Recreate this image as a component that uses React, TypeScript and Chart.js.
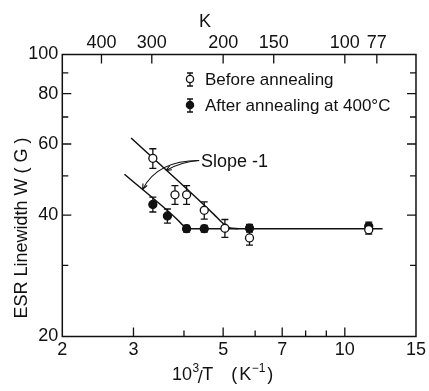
import React, { useEffect, useRef } from "react";
import { Chart, registerables } from "chart.js";
Chart.register(...registerables);

// ---- data ----
const beforeX = [3.35, 3.8, 4.06, 4.49, 5.05, 5.81, 11.46];
const beforeY = [55.3, 44.9, 44.9, 41.1, 37.1, 35.1, 36.8];
const beforeErr = [3.1, 2.4, 2.4, 2.0, 1.9, 1.4, 0.9];

const afterX = [3.35, 3.64, 4.06, 4.49, 5.81, 11.46];
const afterY = [42.5, 39.8, 37.0, 37.0, 37.1, 37.5];
const afterErr = [1.8, 1.6, 0.7, 0.7, 0.8, 0.9];

const fitBeforeX = [2.96, 4.75, 4.94, 5.17, 5.45];
const fitBeforeY = [62.1, 40.1, 38.55, 37.2, 37.0];
const fitAfterX = [2.85, 3.85, 3.98, 4.12, 12.4];
const fitAfterY = [50.5, 39.0, 37.7, 37.0, 37.0];

const xTickValues = [2, 3, 4, 5, 6, 7, 8, 9, 10, 15];
const xTickLabels = ["2", "3", "", "5", "", "7", "", "", "10", "15"];
const yTickValues = [20, 30, 40, 50, 60, 70, 80, 90, 100];
const yTickLabels = ["20", "", "40", "", "60", "", "80", "", "100"];
const topTickPositions = [2.5, 3.33, 5, 6.67, 10, 12.0];
const topTickLabels = ["400", "300", "200", "150", "100", "77"];

const legendLabels = ["Before annealing", "After annealing at 400°C"];
const slopeLabel = "Slope -1";
// annotation anchor points (data coordinates)
const slopeStart = [4.36, 54.6];
const slopeEndUpper = [3.61, 51.6];
const slopeEndLower = [3.16, 46.3];

const FONT = "'Liberation Sans', Arial, sans-serif";
const INK = "#111";

const zip = (xs: number[], ys: number[]) => xs.map((x, i) => ({ x, y: ys[i] }));

const overlay = {
  id: "overlay",
  beforeDatasetsDraw(chart: any) {
    const ctx = chart.ctx;
    const xs = chart.scales.x;
    const ys = chart.scales.y;
    const bars = (X: number[], Y: number[], E: number[]) => {
      X.forEach((xv, i) => {
        const px = xs.getPixelForValue(xv);
        const top = ys.getPixelForValue(Y[i] + E[i]);
        const bot = ys.getPixelForValue(Y[i] - E[i]);
        ctx.beginPath();
        ctx.moveTo(px, top);
        ctx.lineTo(px, bot);
        ctx.moveTo(px - 3.5, top);
        ctx.lineTo(px + 3.5, top);
        ctx.moveTo(px - 3.5, bot);
        ctx.lineTo(px + 3.5, bot);
        ctx.stroke();
      });
    };
    ctx.save();
    ctx.strokeStyle = INK;
    ctx.lineWidth = 1.3;
    bars(beforeX, beforeY, beforeErr);
    bars(afterX, afterY, afterErr);
    ctx.restore();
  },
  afterDraw(chart: any) {
    const ctx = chart.ctx;
    const a = chart.chartArea;
    const xs = chart.scales.x;
    const ys = chart.scales.y;
    ctx.save();
    ctx.strokeStyle = INK;
    ctx.fillStyle = INK;
    ctx.lineWidth = 1.5;
    ctx.strokeRect(a.left, a.top, a.right - a.left, a.bottom - a.top);

    // inward tick marks
    ctx.lineWidth = 1.3;
    ctx.beginPath();
    xTickValues.forEach((v, i) => {
      const px = xs.getPixelForValue(v);
      if (px <= a.left + 1 || px >= a.right - 1) return;
      const len = xTickLabels[i] ? 9 : 6;
      ctx.moveTo(px, a.bottom);
      ctx.lineTo(px, a.bottom - len);
    });
    topTickPositions.forEach((v) => {
      const px = chart.scales.x2.getPixelForValue(v);
      ctx.moveTo(px, a.top);
      ctx.lineTo(px, a.top + 9);
    });
    yTickValues.forEach((v, i) => {
      const py = ys.getPixelForValue(v);
      if (py <= a.top + 1 || py >= a.bottom - 1) return;
      const len = yTickLabels[i] ? 9 : 6;
      ctx.moveTo(a.left, py);
      ctx.lineTo(a.left + len, py);
      ctx.moveTo(a.right, py);
      ctx.lineTo(a.right - len, py);
    });
    ctx.stroke();

    // titles
    ctx.font = `18px ${FONT}`;
    ctx.textAlign = "center";
    ctx.textBaseline = "middle";
    ctx.fillText("K", 205, 22);

    ctx.save();
    ctx.translate(22, 228);
    ctx.rotate(-Math.PI / 2);
    ctx.fillText("ESR Linewidth W ( G )", 0, 0);
    ctx.restore();

    // x title: 10^3/T (K^-1)
    ctx.textAlign = "left";
    ctx.textBaseline = "alphabetic";
    let cx = 172;
    const base = 380;
    const big = `18px ${FONT}`;
    const small = `12px ${FONT}`;
    const put = (t: string, f: string, dy: number, gap = 0) => {
      ctx.font = f;
      ctx.fillText(t, cx, base + dy);
      cx += ctx.measureText(t).width + gap;
    };
    put("10", big, 0, 0.5);
    put("3", small, -8, -1.5);
    put("/", big, 3, -0.5);
    put("T", big, 0, 18);
    put("(", big, 0, 2);
    put("K", big, 0, 0.5);
    put("−1", small, -8, 2);
    put(")", big, 0);

    // legend
    const legendMarker = (x: number, y: number, filled: boolean) => {
      ctx.lineWidth = 1.3;
      ctx.beginPath();
      ctx.moveTo(x, y - 6);
      ctx.lineTo(x, y + 7);
      ctx.moveTo(x - 3, y - 6);
      ctx.lineTo(x + 3, y - 6);
      ctx.moveTo(x - 3, y + 7);
      ctx.lineTo(x + 3, y + 7);
      ctx.stroke();
      ctx.beginPath();
      ctx.arc(x, y, 3.6, 0, Math.PI * 2);
      ctx.fillStyle = filled ? INK : "#fff";
      ctx.fill();
      ctx.stroke();
      ctx.fillStyle = INK;
    };
    legendMarker(190, 79, false);
    legendMarker(190, 105, true);
    ctx.font = `17px ${FONT}`;
    ctx.textBaseline = "middle";
    ctx.fillText(legendLabels[0], 205, 80);
    ctx.fillText(legendLabels[1], 205, 106);

    // slope annotation
    ctx.font = `18px ${FONT}`;
    ctx.fillText(slopeLabel, 201, 162);
    const sx = xs.getPixelForValue(slopeStart[0]);
    const sy = ys.getPixelForValue(slopeStart[1]);
    const arrow = (ex: number, ey: number, cxp: number, cyp: number) => {
      ctx.beginPath();
      ctx.moveTo(sx, sy);
      ctx.quadraticCurveTo(cxp, cyp, ex, ey);
      ctx.stroke();
      const ang = Math.atan2(ey - cyp, ex - cxp);
      ctx.beginPath();
      ctx.moveTo(ex, ey);
      ctx.lineTo(ex - 6 * Math.cos(ang - 0.4), ey - 6 * Math.sin(ang - 0.4));
      ctx.moveTo(ex, ey);
      ctx.lineTo(ex - 6 * Math.cos(ang + 0.4), ey - 6 * Math.sin(ang + 0.4));
      ctx.stroke();
    };
    ctx.lineWidth = 1.1;
    const e1x = xs.getPixelForValue(slopeEndUpper[0]);
    const e1y = ys.getPixelForValue(slopeEndUpper[1]);
    const e2x = xs.getPixelForValue(slopeEndLower[0]);
    const e2y = ys.getPixelForValue(slopeEndLower[1]);
    arrow(e1x, e1y, sx - 17, sy + 1);
    arrow(e2x, e2y, sx - 42, sy);
    ctx.restore();
  },
};

export default function App() {
  const ref = useRef<HTMLCanvasElement | null>(null);
  useEffect(() => {
    if (!ref.current) return;
    const tickFont = { family: FONT, size: 18 };
    const chart = new Chart(ref.current, {
      type: "scatter",
      data: {
        datasets: [
          {
            data: zip(beforeX, beforeY),
            pointRadius: 4,
            pointBackgroundColor: "#fff",
            pointBorderColor: INK,
            pointBorderWidth: 1.3,
            showLine: false,
          },
          {
            data: zip(afterX, afterY),
            pointRadius: 4,
            pointBackgroundColor: INK,
            pointBorderColor: INK,
            pointBorderWidth: 1.3,
            showLine: false,
          },
          {
            data: zip(fitBeforeX, fitBeforeY),
            showLine: true,
            pointRadius: 0,
            borderColor: INK,
            borderWidth: 1.5,
            cubicInterpolationMode: "monotone",
          },
          {
            data: zip(fitAfterX, fitAfterY),
            showLine: true,
            pointRadius: 0,
            borderColor: INK,
            borderWidth: 1.5,
            cubicInterpolationMode: "monotone",
          },
        ],
      } as any,
      options: {
        animation: false,
        responsive: false,
        layout: { padding: { left: 0, right: 11, top: 0, bottom: 0 } },
        plugins: { legend: { display: false }, tooltip: { enabled: false } },
        scales: {
          x: {
            type: "logarithmic",
            position: "bottom",
            min: 2,
            max: 15,
            afterBuildTicks: (s: any) => {
              s.ticks = xTickValues.map((v) => ({ value: v }));
            },
            afterFit: (s: any) => {
              s.height = 54.5;
            },
            ticks: {
              autoSkip: false,
              maxRotation: 0,
              minRotation: 0,
              padding: 3,
              color: INK,
              font: tickFont,
              callback: (_v: any, i: number) => xTickLabels[i],
            },
            grid: { display: false, drawTicks: false },
            border: { display: false },
          },
          x2: {
            type: "logarithmic",
            position: "top",
            min: 2,
            max: 15,
            afterBuildTicks: (s: any) => {
              s.ticks = topTickPositions.map((v) => ({ value: v }));
            },
            afterFit: (s: any) => {
              s.height = 54.5;
            },
            ticks: {
              autoSkip: false,
              maxRotation: 0,
              minRotation: 0,
              padding: 1,
              color: INK,
              font: tickFont,
              callback: (_v: any, i: number) => topTickLabels[i],
            },
            grid: { display: false, drawTicks: false },
            border: { display: false },
          },
          y: {
            type: "logarithmic",
            position: "left",
            min: 20,
            max: 100,
            afterBuildTicks: (s: any) => {
              s.ticks = yTickValues.map((v) => ({ value: v }));
            },
            afterFit: (s: any) => {
              s.width = 62.3;
            },
            ticks: {
              autoSkip: false,
              padding: 4,
              color: INK,
              font: tickFont,
              callback: (_v: any, i: number) => yTickLabels[i],
            },
            grid: { display: false, drawTicks: false },
            border: { display: false },
          },
        },
      } as any,
      plugins: [overlay],
    });
    return () => chart.destroy();
  }, []);
  return (
    <div style={{ position: "fixed", left: 0, top: 0, width: 429, height: 391, background: "#fff" }}>
      <canvas ref={ref} width={429} height={391} style={{ display: "block" }} />
    </div>
  );
}
